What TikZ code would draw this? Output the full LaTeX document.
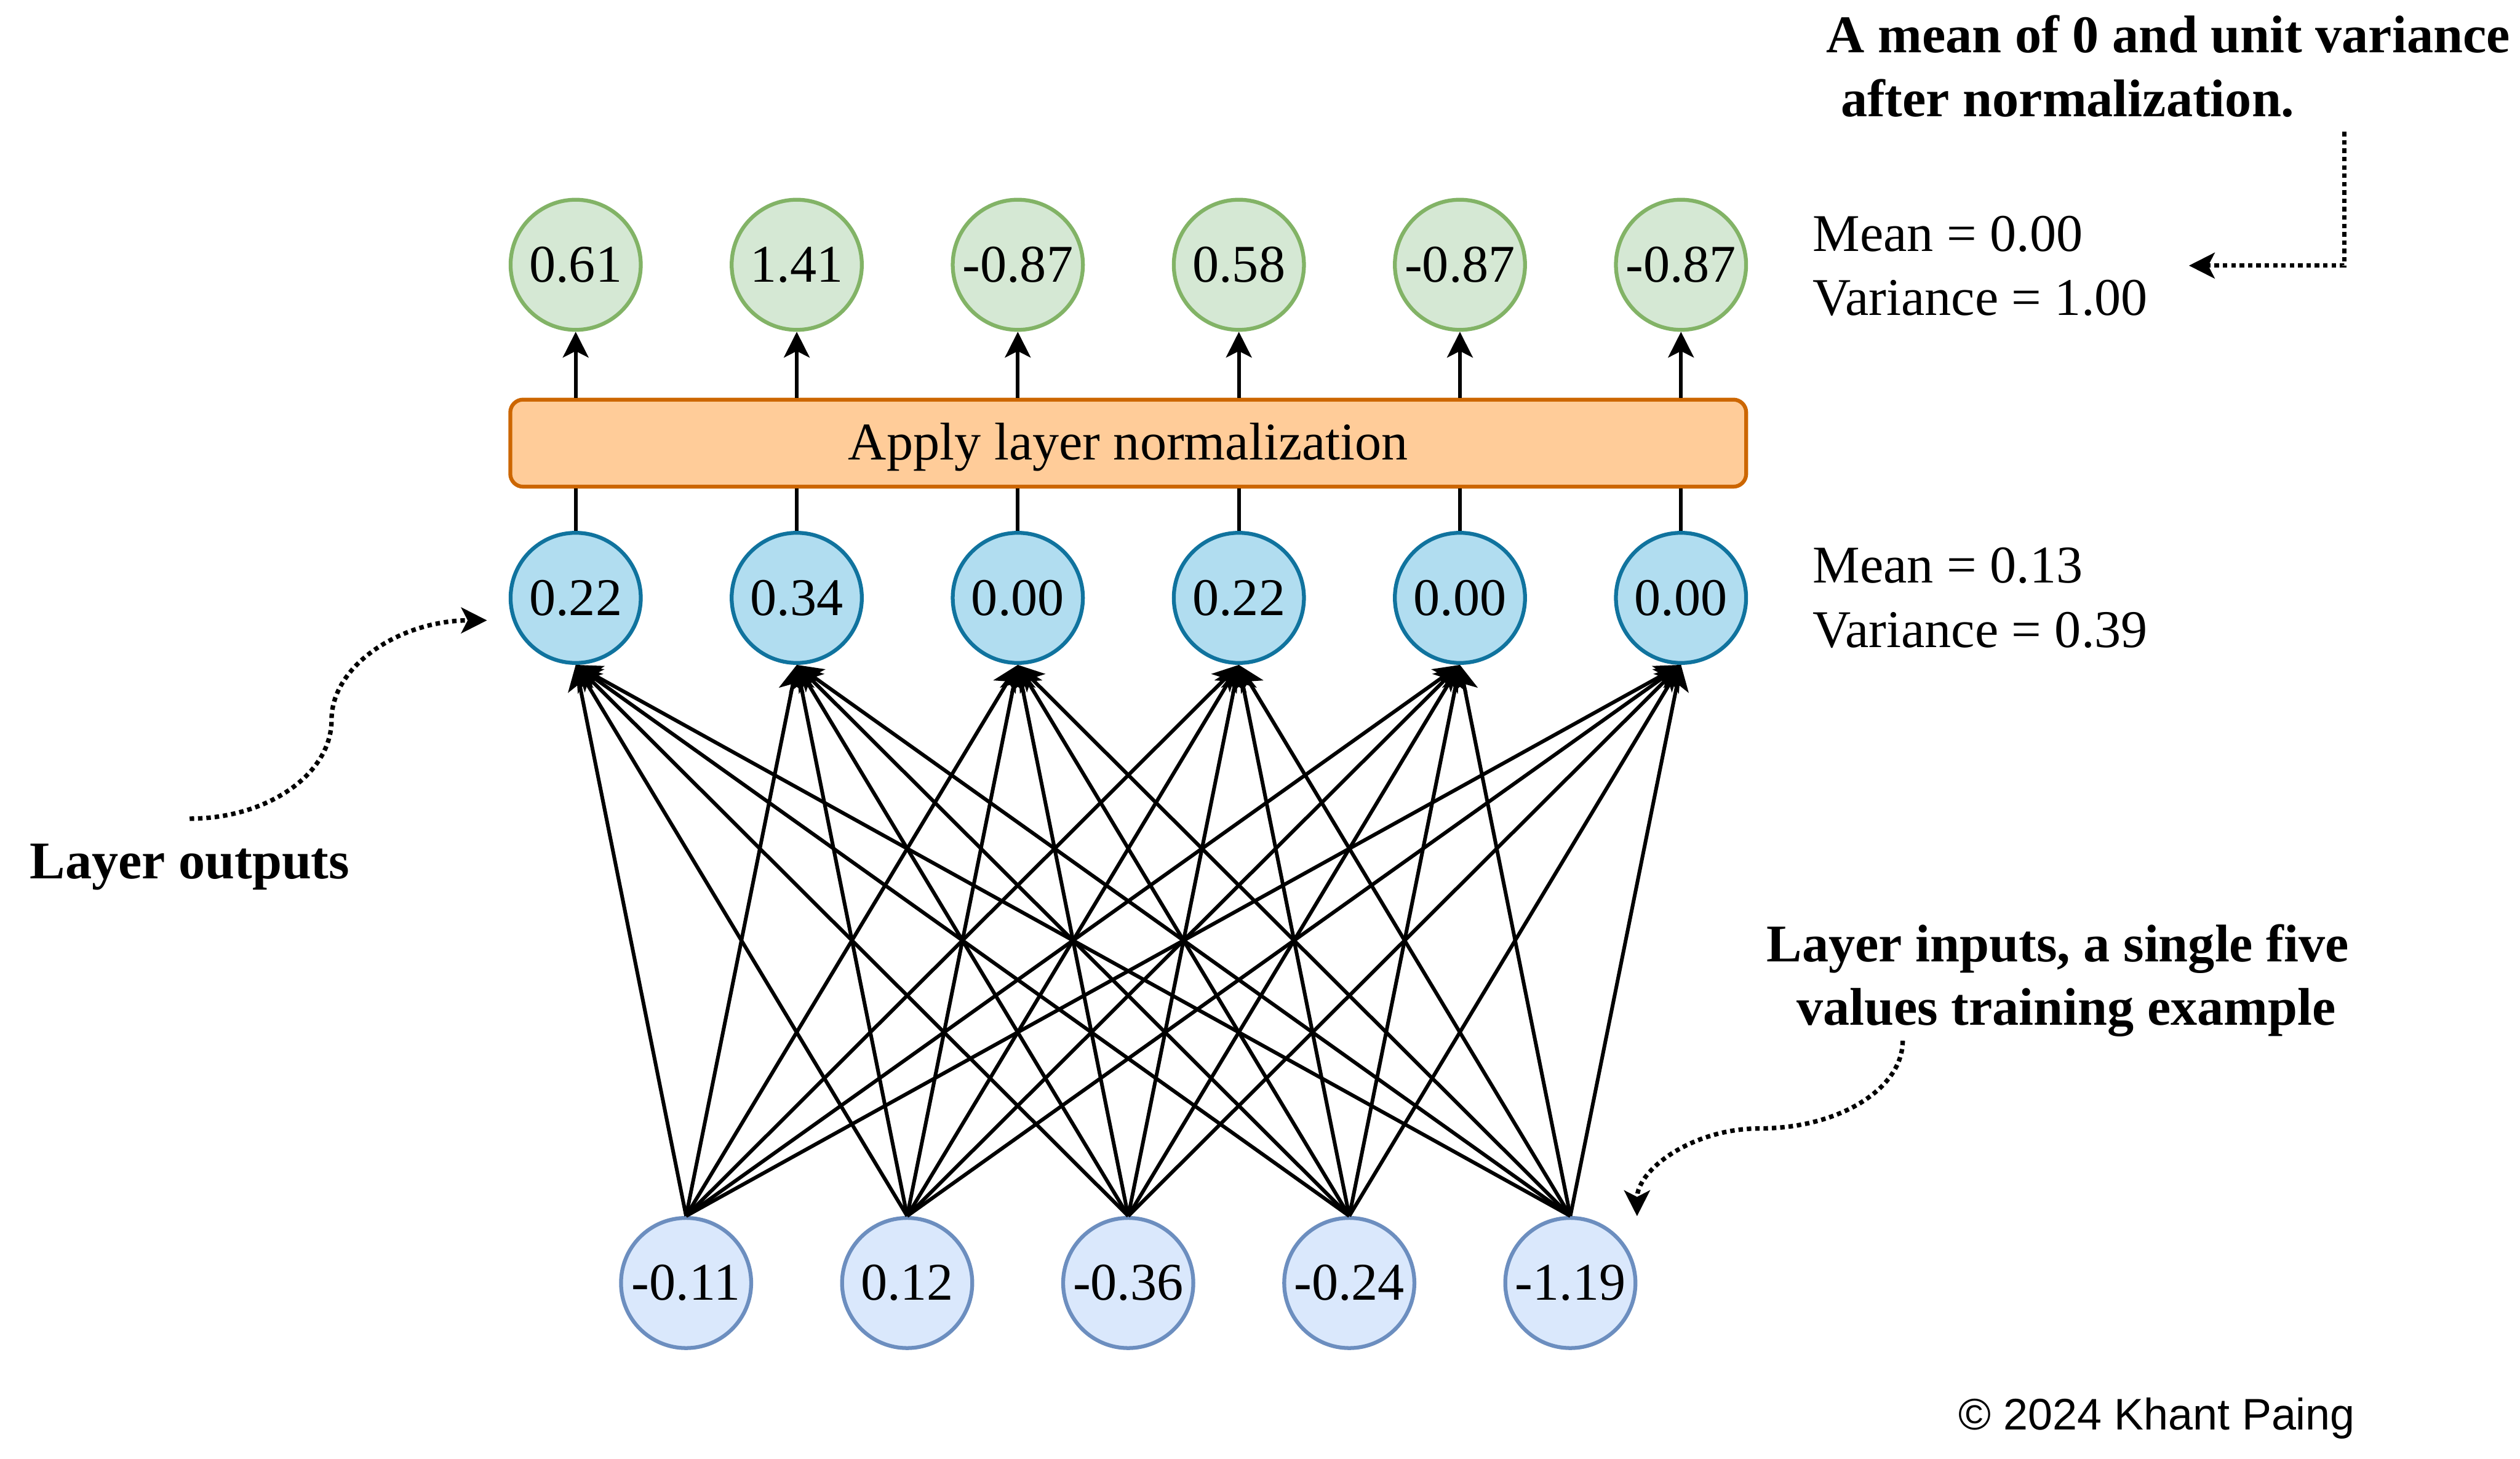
\documentclass[tikz,border=0pt]{standalone}
\usepackage{fontspec}
\setmainfont{Liberation Serif}
\newfontfamily\copyfont{Liberation Sans}
\usetikzlibrary{arrows.meta}
\definecolor{outFill}{HTML}{D5E8D4}
\definecolor{outDraw}{HTML}{82B366}
\definecolor{hidFill}{HTML}{B1DDF0}
\definecolor{hidDraw}{HTML}{10739E}
\definecolor{inFill}{HTML}{DAE8FC}
\definecolor{inDraw}{HTML}{6C8EBF}
\definecolor{boxFill}{HTML}{FFCC99}
\definecolor{boxDraw}{HTML}{CC6600}
\begin{document}
\begin{tikzpicture}[x=0.5pt,y=-0.5pt,
  font=\fontsize{16.5pt}{19.8pt}\selectfont,
  neuron/.style={circle,minimum size=40.5pt,inner sep=0pt,line width=1.2pt},
  outn/.style={neuron,fill=outFill,draw=outDraw},
  hidn/.style={neuron,fill=hidFill,draw=hidDraw},
  inn/.style={neuron,fill=inFill,draw=inDraw},
  normbox/.style={rectangle,draw=boxDraw,fill=boxFill,line width=1.2pt,rounded corners=4pt,
    minimum width=384.5pt,minimum height=27.1pt,inner sep=0pt,text height=11.2pt,text depth=0.8pt},
  myarrow/.style={-{Stealth[length=8pt,width=8pt,inset=2pt]}},
  wire/.style={line width=1.15pt,draw=black},
  dotline/.style={line width=1.4pt,draw=black,dash pattern=on 1.4pt off 1.2pt},
  lbl/.style={inner sep=0pt,anchor=base west},
  boldlbl/.style={lbl,font=\fontsize{16.5pt}{19.8pt}\selectfont\bfseries}
]
\fill[white] (0,0) rectangle (1568,908);
\useasboundingbox (0,0) rectangle (1568,908);

% output (normalized) neurons
\foreach \v [count=\i] in {0.61,1.41,-0.87,0.58,-0.87,-0.87}
  \node[outn] (o\i) at ({358.2+(\i-1)*137.55},164.8) {\v};
% hidden (layer outputs)
\foreach \v [count=\i] in {0.22,0.34,0.00,0.22,0.00,0.00}
  \node[hidn] (h\i) at ({358.2+(\i-1)*137.55},372.1) {\v};
% inputs
\foreach \v [count=\i] in {-0.11,0.12,-0.36,-0.24,-1.19}
  \node[inn] (n\i) at ({426.9+(\i-1)*137.55},798.5) {\v};

% normalization box
\node[normbox] (box) at (702,275.8) {Apply layer normalization};

% connections
\foreach \i in {1,...,5}
  \foreach \j in {1,...,6}
    \draw[wire,myarrow] (n\i.north) -- (h\j.south);
\foreach \j in {1,...,6} {
  \draw[wire] (h\j.north) -- (h\j.north |- box.south);
  \draw[wire,myarrow] (o\j.south |- box.north) -- (o\j.south);
}

% statistics
\node[lbl] (meanO) at (1127.6,156.2) {Mean = 0.00};
\node[lbl] (varO) at (1127.6,196.3) {Variance = 1.00};
\node[lbl] (meanH) at (1127.6,362.7) {Mean = 0.13};
\node[lbl] (varH) at (1127.6,402.8) {Variance = 0.39};

% annotations
\node[boldlbl] (noteA) at (1136,32.6) {A mean of 0 and unit variance};
\node[boldlbl] (noteB) at (1145,72.6) {after normalization.};
\node[boldlbl] (outsLbl) at (18.2,547) {Layer outputs};
\node[boldlbl] (insA) at (1099,598.5) {Layer inputs, a single five};
\node[boldlbl] (insB) at (1117.5,638) {values training example};

% dotted pointers
\coordinate (ntS) at (1458.6,82);
\coordinate (ntE) at (1362,165.3);
\draw[dotline,myarrow] (ntS) |- (ntE);

\coordinate (loS) at (118,509.5);
\coordinate (loE) at (303,386.1);
\draw[dotline,myarrow] (loS) .. controls (166.4,509.5) and (206.3,481.8) .. (206.3,448)
  .. controls (206.3,413.9) and (249.7,386.1) .. (loE);

\coordinate (liS) at (1183.9,647.7);
\coordinate (liE) at (1018.6,756.9);
\draw[dotline,myarrow] (liS) .. controls (1183.9,677.7) and (1144,702.3) .. (1095,702.3)
  .. controls (1053,702.3) and (1018.6,728) .. (liE);

% copyright
\node[lbl,font=\copyfont\fontsize{13.75pt}{16pt}\selectfont] (copy) at (1218.4,890) {© 2024 Khant Paing};
\end{tikzpicture}
\end{document}
